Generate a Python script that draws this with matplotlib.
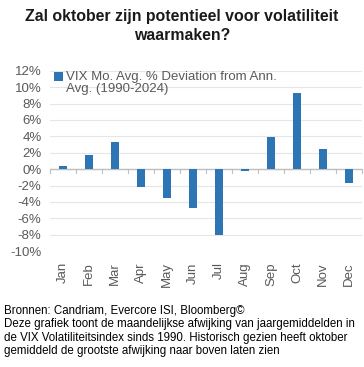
import matplotlib
matplotlib.use("Agg")
import matplotlib.pyplot as plt
from matplotlib.ticker import FuncFormatter
from matplotlib.patches import Rectangle
from matplotlib.legend_handler import HandlerPatch

months = ["Jan", "Feb", "Mar", "Apr", "May", "Jun", "Jul", "Aug", "Sep", "Oct", "Nov", "Dec"]
values = [0.4, 1.75, 3.3, -2.2, -3.5, -4.7, -8.1, -0.2, 3.9, 9.3, 2.4, -1.7]
yticks = list(range(-10, 13, 2))
series_label = "VIX Mo. Avg. % Deviation from Ann.\nAvg. (1990-2024)"
title = "Zal oktober zijn potentieel voor volatiliteit\nwaarmaken?"
footer = ("Bronnen: Candriam, Evercore ISI, Bloomberg©\n"
          "Deze grafiek toont de maandelijkse afwijking van jaargemiddelden in\n"
          "de VIX Volatiliteitsindex sinds 1990. Historisch gezien heeft oktober\n"
          "gemiddeld de grootste afwijking naar boven laten zien")

plt.rcParams['font.family'] = ['Liberation Sans', 'DejaVu Sans']

fig = plt.figure(figsize=(3.64, 3.67), dpi=100)
ax = fig.add_axes([0.137, 0.316, 0.858, 0.491])

x = range(len(months))
bars = ax.bar(x, values, width=0.33, color="#2E75B6", zorder=3, label=series_label)
ax.set_xlim(-0.5, len(months) - 0.5)
ax.set_ylim(-10, 12)
ax.set_yticks(yticks)
ax.yaxis.set_major_formatter(FuncFormatter(lambda v, p: f"{int(v)}%"))
ax.grid(axis="y", color="#E6E6E6", linewidth=0.8, zorder=0)
ax.axhline(0, color="#BFBFBF", linewidth=1.0, zorder=2)
for i in range(len(months) + 1):
    ax.plot([i - 0.5, i - 0.5], [0, -0.45], color="#BFBFBF", linewidth=0.8, zorder=2, clip_on=False)
for s in ax.spines.values():
    s.set_visible(False)
ax.set_xticks(list(x))
ax.set_xticklabels(months, rotation=90, fontsize=9.5, color="#595959")
ax.tick_params(axis="x", length=0, pad=8)
ax.tick_params(axis="y", length=0, labelsize=9.5, labelcolor="#595959", pad=6)


def shifted_square(legend, orig_handle, xdescent, ydescent, width, height, fontsize):
    return Rectangle((-xdescent, -ydescent + 4.6), width, height)


leg = ax.legend(handles=[bars.patches[0]], labels=[series_label],
                loc="upper left", bbox_to_anchor=(-0.005, 1.03), frameon=False,
                fontsize=9.5, handlelength=0.7, handleheight=0.7, handletextpad=0.25,
                labelcolor="#595959", borderaxespad=0,
                handler_map={Rectangle: HandlerPatch(patch_func=shifted_square)})
for t in leg.get_texts():
    t.set_linespacing(1.0)
leg.set_zorder(5)

fig.text(0.5, 0.975, title, ha="center", va="top", fontsize=11.4, fontweight="bold",
         color="#1a1a1a", linespacing=1.3)
fig.text(0.012, 0.168, footer, ha="left", va="top", fontsize=8.3, color="#000000",
         linespacing=1.12)

fig.savefig("out.png", dpi=100)
